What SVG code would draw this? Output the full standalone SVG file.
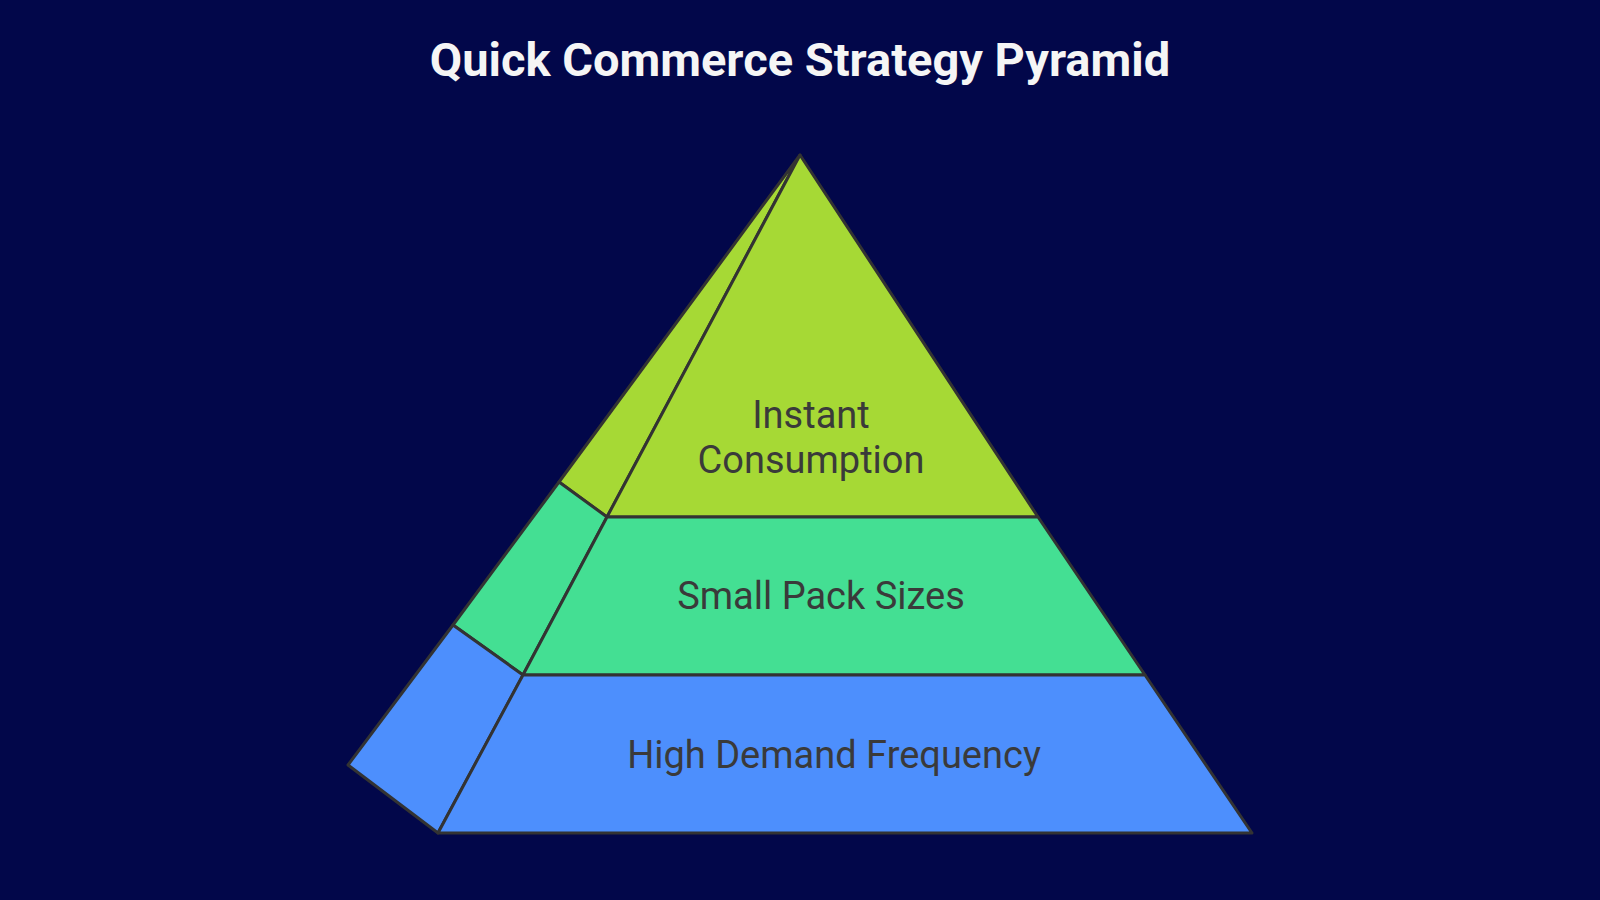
<svg xmlns="http://www.w3.org/2000/svg" width="1600" height="900" viewBox="0 0 1600 900">
<style>
.face{stroke:#333333;stroke-width:3;stroke-linejoin:round}
.t1{fill:#a6d935}.t2{fill:#44df93}.t3{fill:#4d8ffd}
.lbl{font-family:Roboto,"Liberation Sans",sans-serif;font-size:38px;fill:#3a3a3a;text-anchor:middle}
.title{font-family:Roboto,"Liberation Sans",sans-serif;font-size:47px;font-weight:bold;fill:#f5f5f5;text-anchor:middle}
</style>
<rect width="1600" height="900" fill="#02074a"/>
<text class="title" x="800" y="76">Quick Commerce Strategy Pyramid</text>
<g id="top">
<polygon class="face t1" points="800,155 559,482 607,517"/>
<polygon class="face t1" points="800,155 607,517 1038,517"/>
<text class="lbl" x="811" y="428">Instant</text>
<text class="lbl" x="811" y="473">Consumption</text>
</g>
<g id="middle">
<polygon class="face t2" points="559,482 453,625 523,675 607,517"/>
<polygon class="face t2" points="607,517 1038,517 1145,675 523,675"/>
<text class="lbl" x="821" y="609">Small Pack Sizes</text>
</g>
<g id="bottom">
<polygon class="face t3" points="453,625 348,765 438,833 523,675"/>
<polygon class="face t3" points="523,675 1145,675 1252,833 438,833"/>
<text class="lbl" x="834" y="768">High Demand Frequency</text>
</g>
</svg>
